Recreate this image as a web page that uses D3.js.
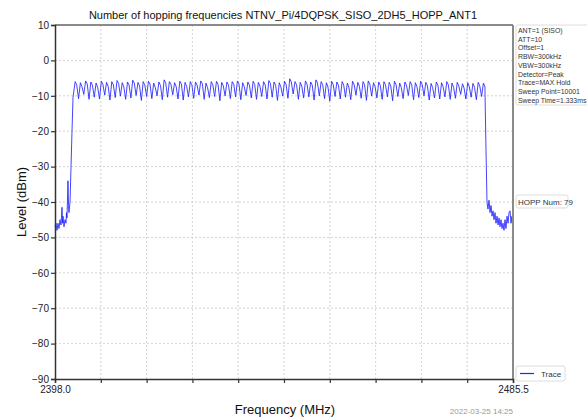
<!DOCTYPE html>
<html>
<head>
<meta charset="utf-8">
<script src="https://cdn.jsdelivr.net/npm/d3@7"></script>
<style>
  body { margin: 0; background: #fff; }
  text { font-family: "Liberation Sans", Arial, sans-serif; }
</style>
</head>
<body>
<svg class="chart"></svg>
<script>
// hopping channel plot, 79 channels 2402..2480 MHz

var title = "Number of hopping frequencies NTNV_Pi/4DQPSK_SISO_2DH5_HOPP_ANT1";
var yTicks = [10, 0, -10, -20, -30, -40, -50, -60, -70, -80, -90];
var xDomain = [2398.0, 2485.5];
var firstChannel = 2402; // MHz, 1 MHz spacing

// peak level of each channel (dBm)
var peaks = [-6.0,-6.3,-5.8,-6.1,-6.4,-5.9,-6.2,-6.0,-5.7,-6.3,
  -6.1,-5.6,-6.2,-6.0,-5.9,-6.4,-6.1,-5.5,-6.0,-6.3,
  -5.9,-6.2,-6.0,-6.1,-5.8,-6.4,-6.0,-5.9,-6.2,-6.1,
  -6.0,-5.8,-6.3,-6.1,-5.9,-6.2,-6.0,-5.7,-6.1,-6.3,
  -5.9,-5.2,-6.0,-6.2,-5.8,-6.1,-5.5,-6.0,-6.3,-5.9,
  -6.1,-6.0,-6.4,-5.9,-6.2,-6.0,-5.8,-6.3,-6.1,-6.0,
  -6.2,-5.9,-6.4,-6.1,-6.0,-6.3,-5.9,-6.2,-6.5,-6.1,
  -6.3,-6.0,-6.4,-6.2,-6.6,-6.3,-6.5,-6.2,-6.4];
// second lobe just after the peak
var shoulders = [-6.9,-7.4,-6.6,-7.0,-7.6,-6.8,-7.3,-6.9,-6.5,-7.5,
  -7.0,-6.4,-7.2,-6.9,-6.7,-7.6,-7.1,-6.3,-6.8,-7.4,
  -6.7,-7.3,-6.9,-7.0,-6.6,-7.7,-6.9,-6.8,-7.2,-7.0,
  -6.8,-6.7,-7.4,-7.0,-6.8,-7.3,-6.9,-6.5,-7.0,-7.5,
  -6.8,-6.1,-6.9,-7.3,-6.7,-7.0,-6.4,-6.9,-7.5,-6.8,
  -7.0,-6.9,-7.6,-6.8,-7.3,-6.9,-6.7,-7.4,-7.1,-6.9,
  -7.2,-6.8,-7.6,-7.0,-6.9,-7.4,-6.8,-7.2,-7.7,-7.0,
  -7.4,-6.9,-7.6,-7.2,-7.8,-7.4,-7.6,-7.2,-7.5];
// dip between a channel and the next one
var dips = [-10.8,-9.6,-11.0,-10.4,-10.9,-9.8,-11.2,-10.5,-10.1,-11.0,
  -10.6,-9.9,-11.3,-10.2,-10.8,-10.0,-11.1,-10.4,-9.7,-10.9,
  -11.2,-10.3,-10.7,-9.8,-11.0,-10.5,-10.2,-11.4,-10.0,-10.8,
  -10.3,-11.1,-9.9,-10.6,-11.0,-10.2,-10.9,-10.4,-11.3,-10.1,
  -10.7,-9.5,-11.0,-10.6,-10.3,-11.2,-10.0,-10.8,-11.5,-10.2,
  -10.9,-10.4,-11.1,-9.8,-10.7,-11.3,-10.1,-10.6,-11.0,-10.3,
  -11.4,-10.2,-10.8,-9.9,-11.1,-10.5,-10.0,-11.2,-10.6,-10.9,
  -10.3,-11.0,-10.7,-9.6,-10.9,-10.4,-11.1,-10.2,-10.0];

// noise floor below the band [MHz, dBm]
var leftNoise = [[2398.00,-47],[2398.19,-46],[2398.38,-48],[2398.57,-46],[2398.76,-47.5],
  [2398.96,-45],[2399.15,-46.5],[2399.34,-41.5],[2399.43,-46],[2399.53,-44],
  [2399.72,-47],[2399.91,-45],[2400.10,-46],[2400.20,-43],[2400.29,-44.5],
  [2400.48,-34],[2400.58,-41],[2400.67,-43],[2400.87,-40],[2401.06,-30],
  [2401.25,-20],[2401.44,-10.5]];
// noise floor above the band
var rightNoise = [[2480.15,-9],[2480.34,-25],[2480.53,-40],[2480.72,-42],[2480.92,-39.5],
  [2481.11,-43],[2481.30,-41],[2481.49,-44],[2481.68,-42.5],[2481.87,-45],
  [2482.06,-43],[2482.25,-46],[2482.45,-44],[2482.64,-46.5],[2482.83,-44.5],
  [2483.02,-47],[2483.21,-45],[2483.40,-47.5],[2483.59,-46],[2483.78,-48],
  [2483.97,-45],[2484.16,-47.5],[2484.36,-44],[2484.55,-46],[2484.74,-43],
  [2484.93,-42.5],[2485.12,-46],[2485.31,-44],[2485.50,-47]];

var infoLines = ["ANT=1 (SISO)", "ATT=10", "Offset=1", "RBW=300kHz", "VBW=300kHz",
  "Detector=Peak", "Trace=MAX Hold", "Sweep Point=10001", "Sweep Time=1.333ms"];
var hoppLabel = "HOPP Num: 79";
var stamp = "2022-03-25 14:25";

// build trace points
var trace = leftNoise.slice();
peaks.forEach(function(p, i) {
  var f = firstChannel + i;
  trace.push([f - 0.15, p]);
  trace.push([f + 0.15, shoulders[i]]);
  if (i < peaks.length - 1) trace.push([f + 0.5, dips[i]]);
});
trace = trace.concat(rightNoise);

var W = 587, H = 419;
var margin = {top: 25, right: 74, bottom: 40, left: 55};
var width = W - margin.left - margin.right;
var height = H - margin.top - margin.bottom;

var svg = d3.select(".chart").attr("width", W).attr("height", H);
var chart = svg.append("g")
  .attr("transform", "translate(" + margin.left + "," + margin.top + ")");

var x = d3.scaleLinear().domain(xDomain).range([0, width]);
var y = d3.scaleLinear().domain([-90, 10]).range([height, 0]);

// grid
var xGrid = d3.range(11).map(function(i) { return xDomain[0] + i * (xDomain[1] - xDomain[0]) / 10; });
chart.selectAll(".vgrid").data(xGrid.slice(1, 10)).enter().append("line")
  .attr("x1", function(d) { return x(d); }).attr("x2", function(d) { return x(d); })
  .attr("y1", 0).attr("y2", height)
  .style("stroke", "#c8c8c8").style("stroke-dasharray", "2,2").style("stroke-width", 0.8);
chart.selectAll(".hgrid").data(yTicks.slice(1, 10)).enter().append("line")
  .attr("x1", 0).attr("x2", width)
  .attr("y1", function(d) { return y(d); }).attr("y2", function(d) { return y(d); })
  .style("stroke", "#c8c8c8").style("stroke-dasharray", "2,2").style("stroke-width", 0.8);

// trace
var line = d3.line()
  .x(function(d) { return x(d[0]); })
  .y(function(d) { return y(d[1]); });
chart.append("path").datum(trace)
  .attr("d", line)
  .style("fill", "none")
  .style("stroke", "#2222ff")
  .style("stroke-width", 0.85);

// top & right frame (grey)
chart.append("line").attr("x1", 0).attr("x2", width).attr("y1", 0).attr("y2", 0)
  .style("stroke", "#8a8a8a").style("stroke-width", 2);
chart.append("line").attr("x1", width).attr("x2", width).attr("y1", 0).attr("y2", height)
  .style("stroke", "#8a8a8a").style("stroke-width", 2);

// axes
var yAxis = d3.axisLeft(y).tickValues(yTicks).tickSize(4).tickFormat(function(d) { return d < 0 ? "\u2212" + (-d) : d; });
var gy = chart.append("g").attr("class", "y axis").call(yAxis);
var xAxis = d3.axisBottom(x).tickValues(xGrid).tickSize(4)
  .tickFormat(function(d, i) { return (i === 0 || i === 10) ? d.toFixed(1) : ""; });
var gx = chart.append("g").attr("class", "x axis")
  .attr("transform", "translate(0," + height + ")").call(xAxis);
[gx, gy].forEach(function(g) {
  g.select(".domain").style("stroke", "#333").style("stroke-width", 1.5);
  g.selectAll(".tick line").style("stroke", "#333").style("stroke-width", 1.2);
  g.selectAll("text").style("font-size", "10px").style("fill", "#222")
    .style("font-family", "Liberation Sans, Arial, sans-serif");
});
gy.selectAll("text").attr("x", -6);
gx.selectAll("text").attr("y", 7);

// titles
svg.append("text").attr("x", 283).attr("y", 19)
  .style("text-anchor", "middle").style("font-size", "11px").style("fill", "#111")
  .text(title);
svg.append("text").attr("transform", "rotate(-90)")
  .attr("x", -(margin.top + height / 2)).attr("y", 26)
  .style("text-anchor", "middle").style("font-size", "13px").style("fill", "#111")
  .text("Level (dBm)");
svg.append("text").attr("x", 285).attr("y", 414)
  .style("text-anchor", "middle").style("font-size", "13px").style("fill", "#111")
  .text("Frequency (MHz)");
svg.append("text").attr("x", margin.left + width).attr("y", 414)
  .style("text-anchor", "end").style("font-size", "8px").style("fill", "#999")
  .text(stamp);

// info box
var bx = margin.left + width + 3;
svg.append("rect").attr("x", bx).attr("y", 25).attr("width", 90).attr("height", 80)
  .attr("rx", 2).style("fill", "#fff").style("stroke", "#ddd");
svg.selectAll(".info").data(infoLines).enter().append("text")
  .attr("x", bx + 2).attr("y", function(d, i) { return 33 + i * 8.7; })
  .style("font-size", "6.9px").style("fill", "#333")
  .text(function(d) { return d; });

// hopping number label
svg.append("rect").attr("x", bx).attr("y", 195).attr("width", 52).attr("height", 13)
  .attr("rx", 2).style("fill", "#fff").style("stroke", "#ddd");
svg.append("text").attr("x", bx + 2).attr("y", 204.5)
  .style("font-size", "8px").style("fill", "#333").text(hoppLabel);

// legend
svg.append("rect").attr("x", bx).attr("y", 366).attr("width", 49).attr("height", 15)
  .attr("rx", 2).style("fill", "#fff").style("stroke", "#ddd");
svg.append("line").attr("x1", bx + 4).attr("x2", bx + 18).attr("y1", 373.5).attr("y2", 373.5)
  .style("stroke", "#2222ff").style("stroke-width", 1.2);
svg.append("text").attr("x", bx + 25).attr("y", 376.5)
  .style("font-size", "8px").style("fill", "#333").text("Trace");
</script>
</body>
</html>
